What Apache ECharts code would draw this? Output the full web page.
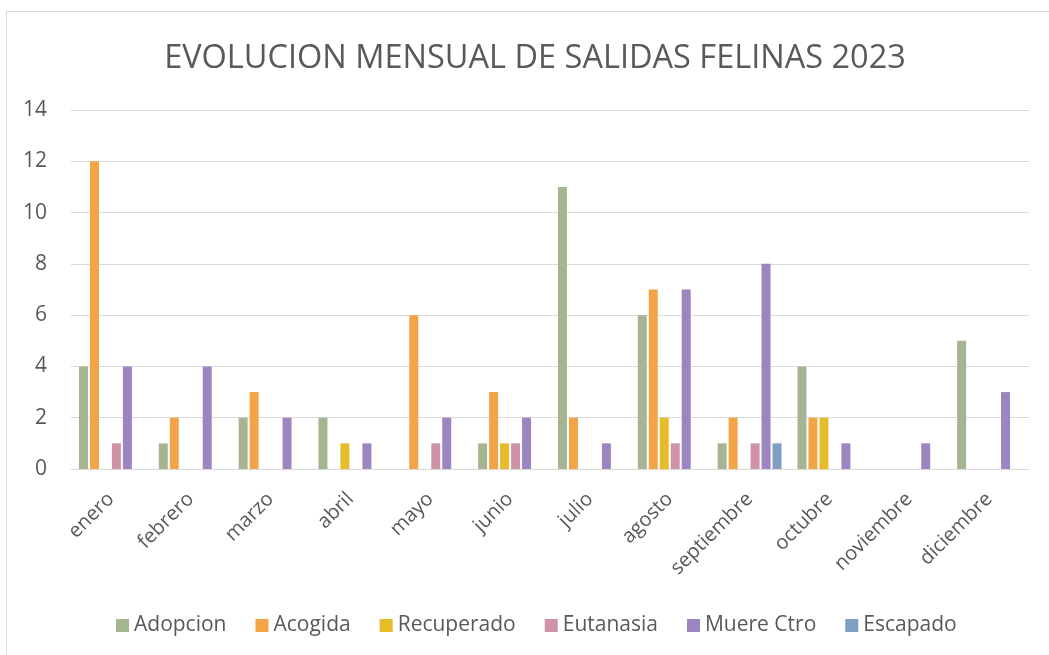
<!DOCTYPE html>
<html>
<head>
<meta charset="utf-8">
<script src="https://cdn.jsdelivr.net/npm/echarts@6/dist/echarts.min.js"></script>
<style>
  html, body { margin: 0; padding: 0; background: #fff; }
  #chart { width: 1049px; height: 655px; }
</style>
</head>
<body>
<div id="chart"></div>
<script>
// datos por mes
const months = ['enero', 'febrero', 'marzo', 'abril', 'mayo', 'junio', 'julio', 'agosto', 'septiembre', 'octubre', 'noviembre', 'diciembre'];
const adopcion   = [4, 1, 2, 2, 0, 1, 11, 6, 1, 4, 0, 5];
const acogida    = [12, 2, 3, 0, 6, 3, 2, 7, 2, 2, 0, 0];
const recuperado = [0, 0, 0, 1, 0, 1, 0, 2, 0, 2, 0, 0];
const eutanasia  = [1, 0, 0, 0, 1, 1, 0, 1, 1, 0, 0, 0];
const muereCtro  = [4, 4, 2, 1, 2, 2, 1, 7, 8, 1, 1, 3];
const escapado   = [0, 0, 0, 0, 0, 0, 0, 0, 1, 0, 0, 0];

const textColor = '#595959';
const fontFam = '"Open Sans", sans-serif';

function bar(name, data, color) {
  return {
    name: name,
    type: 'bar',
    data: data,
    barWidth: 9,
    barGap: '22%',
    itemStyle: { color: color }
  };
}

let myChart = echarts.init(document.getElementById('chart'));
let option = {
  animation: false,
  textStyle: { fontFamily: fontFam },
  graphic: [{
    type: 'rect',
    shape: { x: 6.5, y: 11.5, width: 1060, height: 660 },
    style: { fill: 'none', stroke: '#d9d9d9', lineWidth: 1 },
    silent: true
  }],
  title: {
    text: 'EVOLUCION MENSUAL DE SALIDAS FELINAS 2023',
    left: 530,
    top: 37,
    textAlign: 'center',
    textStyle: { color: textColor, fontSize: 32.5, fontWeight: 'normal', fontFamily: fontFam }
  },
  legend: {
    top: 610,
    left: 111,
    itemWidth: 13,
    itemHeight: 13,
    itemGap: 29,
    icon: 'rect',
    textStyle: { color: textColor, fontSize: 21, fontFamily: fontFam }
  },
  grid: { left: 71, right: 20, top: 110, bottom: 186 },
  xAxis: {
    type: 'category',
    data: months,
    axisLine: { lineStyle: { color: '#d9d9d9' } },
    axisTick: { show: false },
    axisLabel: { rotate: 45, color: textColor, fontSize: 20, margin: 27, interval: 0 }
  },
  yAxis: {
    type: 'value',
    min: 0,
    max: 14,
    interval: 2,
    axisLine: { show: false },
    axisTick: { show: false },
    axisLabel: { color: textColor, fontSize: 21, margin: 24 },
    splitLine: { lineStyle: { color: '#d9d9d9' } }
  },
  series: [
    bar('Adopcion', adopcion, '#A5B592'),
    bar('Acogida', acogida, '#F3A447'),
    bar('Recuperado', recuperado, '#E7BC29'),
    bar('Eutanasia', eutanasia, '#D092A7'),
    bar('Muere Ctro', muereCtro, '#9C85C0'),
    bar('Escapado', escapado, '#809EC2')
  ]
};
myChart.setOption(option);
</script>
</body>
</html>
